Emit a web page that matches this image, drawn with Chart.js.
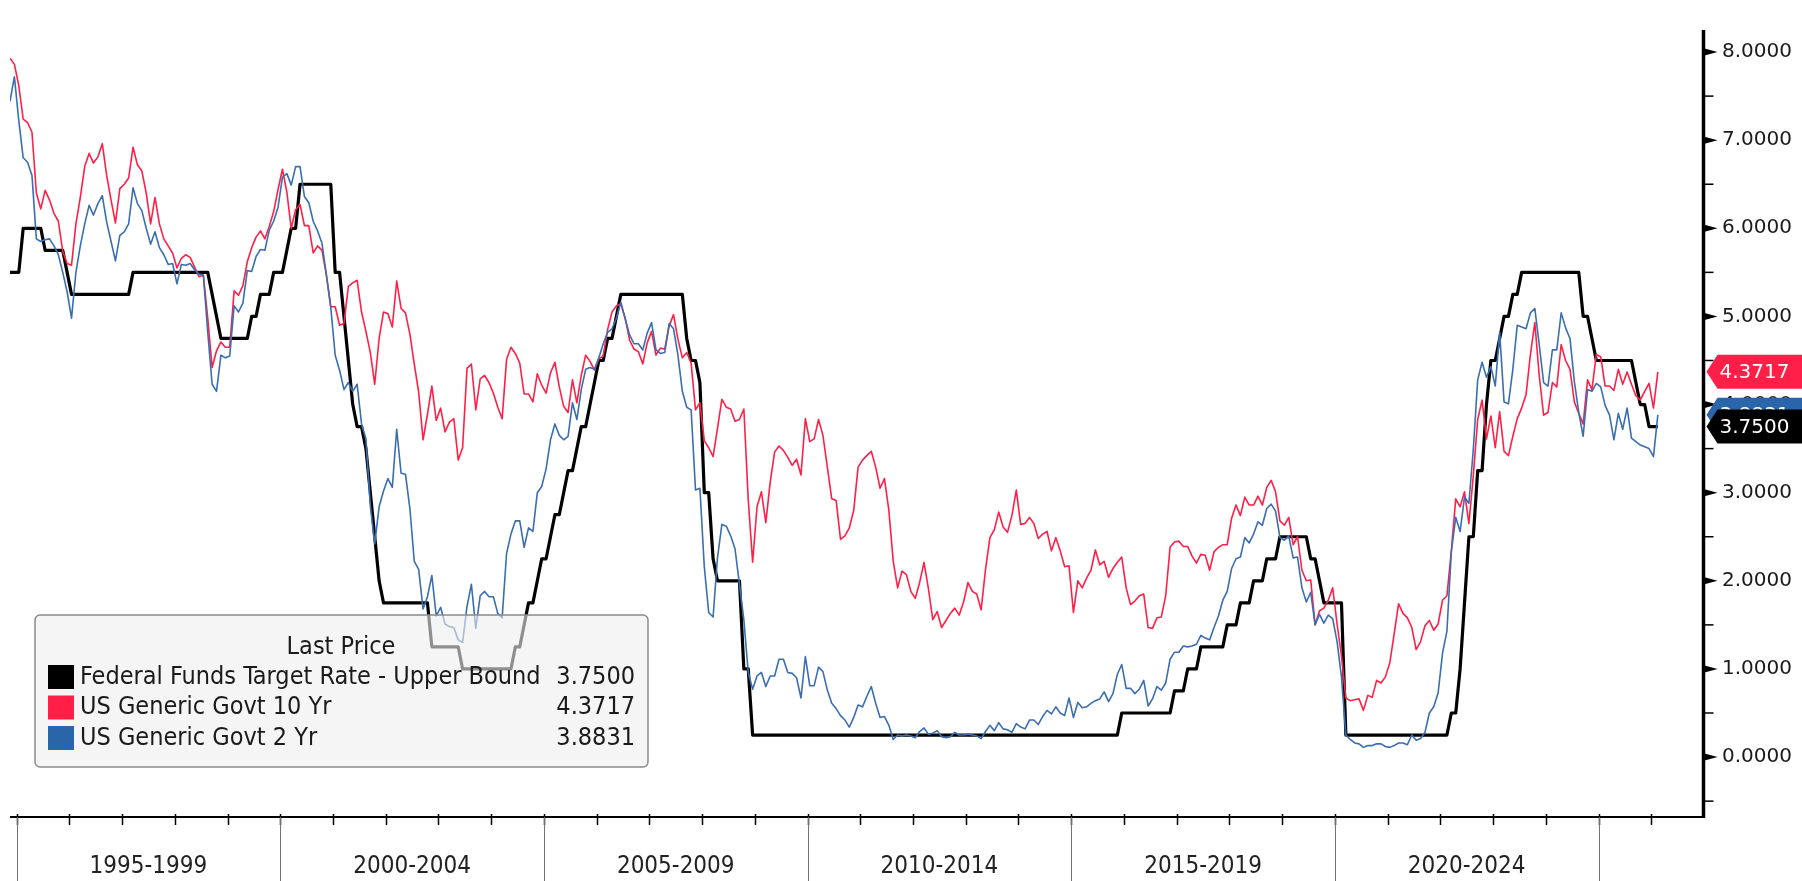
<!DOCTYPE html>
<html>
<head>
<meta charset="utf-8">
<script src="https://cdn.jsdelivr.net/npm/chart.js@4.4.1/dist/chart.umd.min.js"></script>
<style>
  html, body { margin: 0; padding: 0; background: #fff; }
  canvas { display: block; }
</style>
</head>
<body>
<canvas id="tasas" width="1802" height="881"></canvas>
<script>
// monthly samples, oldest first (first one = Nov 1994)
const FIRST_POINT = 1994 + 10.5 / 12;

const FED_FUNDS = [
  5.5, 5.5,
  5.5, 6.0, 6.0, 6.0, 6.0, 6.0, 5.75, 5.75, 5.75, 5.75, 5.75, 5.5,          // 1995
  5.25, 5.25, 5.25, 5.25, 5.25, 5.25, 5.25, 5.25, 5.25, 5.25, 5.25, 5.25,  // 1996
  5.25, 5.25, 5.5, 5.5, 5.5, 5.5, 5.5, 5.5, 5.5, 5.5, 5.5, 5.5,            // 1997
  5.5, 5.5, 5.5, 5.5, 5.5, 5.5, 5.5, 5.5, 5.25, 5.0, 4.75, 4.75,           // 1998
  4.75, 4.75, 4.75, 4.75, 4.75, 5.0, 5.0, 5.25, 5.25, 5.25, 5.5, 5.5,      // 1999
  5.5, 5.75, 6.0, 6.0, 6.5, 6.5, 6.5, 6.5, 6.5, 6.5, 6.5, 6.5,             // 2000
  5.5, 5.5, 5.0, 4.5, 4.0, 3.75, 3.75, 3.5, 3.0, 2.5, 2.0, 1.75,           // 2001
  1.75, 1.75, 1.75, 1.75, 1.75, 1.75, 1.75, 1.75, 1.75, 1.75, 1.25, 1.25,  // 2002
  1.25, 1.25, 1.25, 1.25, 1.25, 1.0, 1.0, 1.0, 1.0, 1.0, 1.0, 1.0,         // 2003
  1.0, 1.0, 1.0, 1.0, 1.0, 1.25, 1.25, 1.5, 1.75, 1.75, 2.0, 2.25,         // 2004
  2.25, 2.5, 2.75, 2.75, 3.0, 3.25, 3.25, 3.5, 3.75, 3.75, 4.0, 4.25,      // 2005
  4.5, 4.5, 4.75, 4.75, 5.0, 5.25, 5.25, 5.25, 5.25, 5.25, 5.25, 5.25,     // 2006
  5.25, 5.25, 5.25, 5.25, 5.25, 5.25, 5.25, 5.25, 4.75, 4.5, 4.5, 4.25,    // 2007
  3.0, 3.0, 2.25, 2.0, 2.0, 2.0, 2.0, 2.0, 2.0, 1.0, 1.0, 0.25,            // 2008
  0.25, 0.25, 0.25, 0.25, 0.25, 0.25, 0.25, 0.25, 0.25, 0.25, 0.25, 0.25,  // 2009
  0.25, 0.25, 0.25, 0.25, 0.25, 0.25, 0.25, 0.25, 0.25, 0.25, 0.25, 0.25,  // 2010
  0.25, 0.25, 0.25, 0.25, 0.25, 0.25, 0.25, 0.25, 0.25, 0.25, 0.25, 0.25,  // 2011
  0.25, 0.25, 0.25, 0.25, 0.25, 0.25, 0.25, 0.25, 0.25, 0.25, 0.25, 0.25,  // 2012
  0.25, 0.25, 0.25, 0.25, 0.25, 0.25, 0.25, 0.25, 0.25, 0.25, 0.25, 0.25,  // 2013
  0.25, 0.25, 0.25, 0.25, 0.25, 0.25, 0.25, 0.25, 0.25, 0.25, 0.25, 0.25,  // 2014
  0.25, 0.25, 0.25, 0.25, 0.25, 0.25, 0.25, 0.25, 0.25, 0.25, 0.25, 0.5,   // 2015
  0.5, 0.5, 0.5, 0.5, 0.5, 0.5, 0.5, 0.5, 0.5, 0.5, 0.5, 0.75,             // 2016
  0.75, 0.75, 1.0, 1.0, 1.0, 1.25, 1.25, 1.25, 1.25, 1.25, 1.25, 1.5,      // 2017
  1.5, 1.5, 1.75, 1.75, 1.75, 2.0, 2.0, 2.0, 2.25, 2.25, 2.25, 2.5,        // 2018
  2.5, 2.5, 2.5, 2.5, 2.5, 2.5, 2.25, 2.25, 2.0, 1.75, 1.75, 1.75,         // 2019
  1.75, 1.75, 0.25, 0.25, 0.25, 0.25, 0.25, 0.25, 0.25, 0.25, 0.25, 0.25,  // 2020
  0.25, 0.25, 0.25, 0.25, 0.25, 0.25, 0.25, 0.25, 0.25, 0.25, 0.25, 0.25,  // 2021
  0.25, 0.25, 0.5, 0.5, 1.0, 1.75, 2.5, 2.5, 3.25, 3.25, 4.0, 4.5,         // 2022
  4.5, 4.75, 5.0, 5.0, 5.25, 5.25, 5.5, 5.5, 5.5, 5.5, 5.5, 5.5,           // 2023
  5.5, 5.5, 5.5, 5.5, 5.5, 5.5, 5.5, 5.5, 5.0, 5.0, 4.75, 4.5,             // 2024
  4.5, 4.5, 4.5, 4.5, 4.5, 4.5, 4.5, 4.5, 4.25, 4.0, 4.0, 3.75,            // 2025
  3.75, 3.75                                                               // 2026
];

const GOVT_10Y = [
  7.93, 7.86,
  7.62, 7.24, 7.20, 7.09, 6.40, 6.22, 6.43, 6.32, 6.17, 6.08, 5.74, 5.60,  // 1995
  5.58, 6.05, 6.35, 6.70, 6.85, 6.74, 6.81, 6.96, 6.60, 6.32, 6.06, 6.45,  // 1996
  6.50, 6.57, 6.92, 6.72, 6.65, 6.40, 6.05, 6.35, 6.05, 5.88, 5.80, 5.72,  // 1997
  5.55, 5.66, 5.70, 5.67, 5.56, 5.45, 5.47, 4.98, 4.42, 4.61, 4.71, 4.65,  // 1998
  4.65, 5.29, 5.24, 5.35, 5.62, 5.78, 5.90, 5.97, 5.88, 6.02, 6.19, 6.44,  // 1999
  6.67, 6.41, 6.00, 6.21, 6.27, 6.03, 6.03, 5.72, 5.80, 5.75, 5.47, 5.11,  // 2000
  5.11, 4.90, 4.92, 5.34, 5.38, 5.41, 5.05, 4.83, 4.59, 4.23, 4.75, 5.05,  // 2001
  5.03, 4.88, 5.40, 5.09, 5.04, 4.80, 4.46, 4.14, 3.60, 3.89, 4.21, 3.82,  // 2002
  3.96, 3.69, 3.80, 3.84, 3.37, 3.51, 4.41, 4.46, 3.94, 4.29, 4.33, 4.25,  // 2003
  4.13, 3.97, 3.84, 4.51, 4.65, 4.58, 4.47, 4.12, 4.12, 4.03, 4.35, 4.22,  // 2004
  4.13, 4.36, 4.48, 4.20, 3.98, 3.91, 4.28, 4.02, 4.33, 4.56, 4.49, 4.39,  // 2005
  4.52, 4.55, 4.85, 5.05, 5.12, 5.14, 4.98, 4.73, 4.63, 4.60, 4.46, 4.70,  // 2006
  4.83, 4.56, 4.64, 4.63, 4.89, 5.02, 4.74, 4.53, 4.59, 4.47, 3.94, 4.02,  // 2007
  3.59, 3.51, 3.41, 3.73, 4.06, 3.97, 3.95, 3.81, 3.83, 3.95, 2.92, 2.21,  // 2008
  2.84, 3.01, 2.66, 3.12, 3.46, 3.53, 3.48, 3.40, 3.31, 3.38, 3.20, 3.84,  // 2009
  3.58, 3.61, 3.83, 3.65, 3.29, 2.93, 2.91, 2.47, 2.51, 2.60, 2.80, 3.29,  // 2010
  3.37, 3.42, 3.47, 3.29, 3.05, 3.16, 2.80, 2.22, 1.92, 2.11, 2.07, 1.88,  // 2011
  1.80, 1.98, 2.21, 1.91, 1.56, 1.65, 1.47, 1.55, 1.63, 1.69, 1.61, 1.76,  // 2012
  1.98, 1.88, 1.85, 1.67, 2.13, 2.49, 2.58, 2.78, 2.61, 2.55, 2.74, 3.03,  // 2013
  2.64, 2.65, 2.72, 2.65, 2.48, 2.53, 2.56, 2.34, 2.49, 2.34, 2.16, 2.17,  // 2014
  1.64, 2.00, 1.92, 2.03, 2.12, 2.35, 2.18, 2.22, 2.04, 2.14, 2.21, 2.27,  // 2015
  1.92, 1.73, 1.77, 1.83, 1.85, 1.47, 1.46, 1.58, 1.59, 1.83, 2.38, 2.44,  // 2016
  2.45, 2.39, 2.39, 2.28, 2.20, 2.30, 2.29, 2.12, 2.33, 2.38, 2.41, 2.41,  // 2017
  2.71, 2.86, 2.74, 2.95, 2.86, 2.86, 2.96, 2.86, 3.06, 3.14, 3.01, 2.68,  // 2018
  2.63, 2.72, 2.41, 2.50, 2.12, 2.00, 2.01, 1.50, 1.66, 1.69, 1.78, 1.92,  // 2019
  1.51, 1.15, 0.67, 0.64, 0.65, 0.66, 0.53, 0.70, 0.68, 0.87, 0.84, 0.91,  // 2020
  1.07, 1.40, 1.74, 1.63, 1.58, 1.47, 1.22, 1.31, 1.49, 1.55, 1.44, 1.51,  // 2021
  1.78, 1.83, 2.34, 2.93, 2.84, 3.01, 2.65, 3.19, 3.83, 4.05, 3.61, 3.87,  // 2022
  3.51, 3.92, 3.47, 3.42, 3.64, 3.84, 3.96, 4.11, 4.57, 4.93, 4.33, 3.88,  // 2023
  3.91, 4.25, 4.20, 4.68, 4.50, 4.40, 4.03, 3.90, 3.78, 4.28, 4.17, 4.57,  // 2024
  4.54, 4.21, 4.21, 4.16, 4.40, 4.23, 4.37, 4.23, 4.10, 4.05, 4.15, 4.24,  // 2025
  3.96, 4.3717                                                             // 2026
];

const GOVT_2Y = [
  7.44, 7.72,
  7.22, 6.80, 6.75, 6.60, 5.88, 5.85, 5.87, 5.88, 5.80, 5.70, 5.50, 5.28,  // 1995
  4.98, 5.50, 5.80, 6.05, 6.26, 6.15, 6.28, 6.37, 6.07, 5.85, 5.63, 5.92,  // 1996
  5.96, 6.05, 6.46, 6.28, 6.20, 6.00, 5.82, 5.96, 5.78, 5.70, 5.59, 5.60,  // 1997
  5.37, 5.59, 5.58, 5.60, 5.53, 5.48, 5.47, 4.82, 4.23, 4.15, 4.56, 4.53,  // 1998
  4.55, 5.12, 5.05, 5.15, 5.52, 5.51, 5.68, 5.76, 5.75, 5.98, 6.08, 6.24,  // 1999
  6.58, 6.62, 6.49, 6.70, 6.70, 6.36, 6.29, 6.08, 5.97, 5.83, 5.47, 5.10,  // 2000
  4.56, 4.39, 4.17, 4.25, 4.15, 4.23, 3.78, 3.61, 2.85, 2.42, 2.84, 3.02,  // 2001
  3.16, 3.06, 3.72, 3.22, 3.21, 2.82, 2.22, 2.13, 1.68, 1.82, 2.06, 1.60,  // 2002
  1.70, 1.51, 1.48, 1.47, 1.33, 1.30, 1.71, 1.96, 1.46, 1.83, 1.88, 1.82,  // 2003
  1.82, 1.63, 1.58, 2.31, 2.53, 2.68, 2.68, 2.38, 2.60, 2.56, 3.00, 3.07,  // 2004
  3.27, 3.60, 3.78, 3.65, 3.60, 3.64, 4.02, 3.83, 4.17, 4.40, 4.42, 4.40,  // 2005
  4.53, 4.69, 4.82, 4.86, 4.98, 5.16, 4.97, 4.79, 4.69, 4.69, 4.62, 4.81,  // 2006
  4.93, 4.62, 4.58, 4.59, 4.92, 4.86, 4.56, 4.15, 3.97, 3.94, 3.03, 3.05,  // 2007
  2.16, 1.64, 1.59, 2.26, 2.64, 2.62, 2.51, 2.36, 1.96, 1.56, 0.96, 0.77,  // 2008
  0.92, 0.96, 0.80, 0.92, 0.92, 1.11, 1.11, 0.96, 0.95, 0.90, 0.67, 1.14,  // 2009
  0.81, 0.81, 1.02, 0.97, 0.76, 0.61, 0.55, 0.47, 0.42, 0.34, 0.45, 0.59,  // 2010
  0.57, 0.69, 0.80, 0.61, 0.45, 0.46, 0.36, 0.20, 0.25, 0.24, 0.25, 0.24,  // 2011
  0.22, 0.29, 0.33, 0.26, 0.27, 0.30, 0.23, 0.22, 0.23, 0.28, 0.25, 0.25,  // 2012
  0.26, 0.25, 0.24, 0.21, 0.29, 0.36, 0.30, 0.39, 0.32, 0.31, 0.28, 0.38,  // 2013
  0.34, 0.32, 0.42, 0.42, 0.37, 0.46, 0.53, 0.49, 0.57, 0.50, 0.47, 0.67,  // 2014
  0.45, 0.62, 0.56, 0.57, 0.61, 0.64, 0.66, 0.74, 0.63, 0.72, 0.94, 1.05,  // 2015
  0.78, 0.78, 0.72, 0.77, 0.87, 0.58, 0.66, 0.80, 0.76, 0.84, 1.11, 1.19,  // 2016
  1.19, 1.26, 1.25, 1.26, 1.28, 1.38, 1.35, 1.33, 1.47, 1.60, 1.78, 1.88,  // 2017
  2.14, 2.25, 2.27, 2.49, 2.43, 2.53, 2.67, 2.63, 2.82, 2.87, 2.79, 2.49,  // 2018
  2.46, 2.51, 2.26, 2.27, 1.92, 1.76, 1.87, 1.50, 1.62, 1.52, 1.61, 1.57,  // 2019
  1.31, 0.91, 0.25, 0.20, 0.16, 0.15, 0.11, 0.13, 0.13, 0.15, 0.15, 0.12,  // 2020
  0.11, 0.13, 0.16, 0.16, 0.14, 0.25, 0.19, 0.21, 0.28, 0.50, 0.57, 0.73,  // 2021
  1.18, 1.43, 2.33, 2.72, 2.56, 2.95, 2.88, 3.49, 4.28, 4.48, 4.31, 4.43,  // 2022
  4.21, 4.82, 4.03, 4.01, 4.40, 4.90, 4.88, 4.86, 5.04, 5.09, 4.68, 4.25,  // 2023
  4.21, 4.62, 4.62, 5.04, 4.87, 4.75, 4.26, 3.91, 3.64, 4.17, 4.15, 4.24,  // 2024
  4.20, 3.99, 3.88, 3.60, 3.90, 3.72, 3.96, 3.62, 3.58, 3.54, 3.52, 3.50,  // 2025
  3.41, 3.8831                                                             // 2026
];

const SERIES_NAMES = [
  "Federal Funds Target Rate - Upper Bound",
  "US Generic Govt 10 Yr",
  "US Generic Govt 2 Yr"
];
const SERIES_COLORS = ["#000000", "#ff1f47", "#2b65a9"];

const Y_TICKS = [-0.5, 0, 0.5, 1, 1.5, 2, 2.5, 3, 3.5, 4, 4.5, 5, 5.5, 6, 6.5, 7, 7.5, 8];
const BAND_STARTS = [1995, 2000, 2005, 2010, 2015, 2020, 2025];
const BAND_LABELS = ["1995-1999", "2000-2004", "2005-2009", "2010-2014", "2015-2019", "2020-2024", ""];

const AXIS_FONT = "'DejaVu Sans', Verdana, sans-serif";
const TEXT_FONT = "'DejaVu Sans Condensed', 'Liberation Sans', Arial, sans-serif";

function puntos(valores) {
  return valores.map((v, i) => ({ x: FIRST_POINT + i / 12, y: v }));
}
function ultimo(valores) {
  return valores[valores.length - 1];
}

/* ── ejes, leyenda y etiquetas estilo terminal ───────────── */

const marco = {
  id: "marco",
  afterDraw(chart) {
    const { ctx, chartArea: ca } = chart;
    const xs = chart.scales.x, ys = chart.scales.y;
    const axisX = ca.right - 0.5;
    ctx.save();

    // eje x + marcas anuales
    ctx.strokeStyle = "#000";
    ctx.lineWidth = 2;
    ctx.beginPath();
    ctx.moveTo(ca.left, ca.bottom);
    ctx.lineTo(axisX, ca.bottom);
    ctx.stroke();
    ctx.lineWidth = 1.5;
    for (let yr = BAND_STARTS[0]; yr < 2027; yr++) {
      const px = Math.round(xs.getPixelForValue(yr)) + 0.5;
      ctx.beginPath();
      ctx.moveTo(px, ca.bottom - 3);
      ctx.lineTo(px, ca.bottom + 8);
      ctx.stroke();
    }

    // bandas de 5 años
    ctx.strokeStyle = "#707070";
    ctx.lineWidth = 1;
    ctx.fillStyle = "#222";
    ctx.font = "24px " + TEXT_FONT;
    ctx.textAlign = "center";
    ctx.textBaseline = "middle";
    BAND_STARTS.forEach((yr, i) => {
      const px = Math.round(xs.getPixelForValue(yr)) + 0.5;
      ctx.beginPath();
      ctx.moveTo(px, ca.bottom);
      ctx.lineTo(px, chart.height);
      ctx.stroke();
      if (BAND_LABELS[i]) {
        const mid = (xs.getPixelForValue(yr) + xs.getPixelForValue(yr + 5)) / 2;
        ctx.fillText(BAND_LABELS[i], mid, ca.bottom + 50);
      }
    });

    // eje y derecho
    ctx.strokeStyle = "#000";
    ctx.lineWidth = 3.5;
    ctx.beginPath();
    ctx.moveTo(axisX, ca.top);
    ctx.lineTo(axisX, ca.bottom + 1);
    ctx.stroke();
    ctx.fillStyle = "#000";
    ctx.lineWidth = 1.5;
    Y_TICKS.forEach(v => {
      const py = ys.getPixelForValue(v);
      if (Number.isInteger(v)) {
        ctx.beginPath();
        ctx.moveTo(axisX + 1, py - 3.5);
        ctx.lineTo(axisX + 14, py);
        ctx.lineTo(axisX + 1, py + 3.5);
        ctx.closePath();
        ctx.fill();
      } else {
        ctx.beginPath();
        ctx.moveTo(axisX + 1, py);
        ctx.lineTo(axisX + 10, py);
        ctx.stroke();
      }
    });

    // leyenda "Last Price"
    const bx = ca.left + 25, by = ca.bottom - 202, bw = 613, bh = 152;
    ctx.beginPath();
    ctx.roundRect(bx, by, bw, bh, 5);
    ctx.fillStyle = "rgba(238,238,238,0.6)";
    ctx.fill();
    ctx.strokeStyle = "#8a8a8a";
    ctx.lineWidth = 1.5;
    ctx.stroke();

    ctx.fillStyle = "#1a1a1a";
    ctx.font = "25px " + TEXT_FONT;
    ctx.textBaseline = "middle";
    ctx.textAlign = "center";
    ctx.fillText("Last Price", bx + 306, by + 32);
    const valores = [FED_FUNDS, GOVT_10Y, GOVT_2Y];
    SERIES_NAMES.forEach((name, i) => {
      const cy = by + 62 + i * 30.5;
      ctx.fillStyle = SERIES_COLORS[i];
      ctx.fillRect(bx + 13, cy - 12, 26, 24);
      ctx.fillStyle = "#1a1a1a";
      ctx.textAlign = "left";
      ctx.fillText(name, bx + 45, cy);
      ctx.textAlign = "right";
      ctx.fillText(ultimo(valores[i]).toFixed(4), bx + 600, cy);
    });

    // etiquetas del último valor
    ctx.font = "20px " + AXIS_FONT;
    ctx.textAlign = "left";
    [1, 2, 0].forEach(i => {
      const v = ultimo(valores[i]);
      const py = ys.getPixelForValue(v);
      ctx.beginPath();
      ctx.moveTo(axisX + 3, py);
      ctx.lineTo(axisX + 14, py - 17);
      ctx.lineTo(chart.width, py - 17);
      ctx.lineTo(chart.width, py + 17);
      ctx.lineTo(axisX + 14, py + 17);
      ctx.closePath();
      ctx.fillStyle = SERIES_COLORS[i];
      ctx.fill();
      ctx.fillStyle = "#fff";
      ctx.fillText(v.toFixed(4), axisX + 16, py + 1);
    });

    ctx.restore();
  }
};

new Chart(document.getElementById("tasas"), {
  type: "line",
  data: {
    datasets: [
      {
        label: SERIES_NAMES[0],
        data: puntos(FED_FUNDS),
        borderColor: SERIES_COLORS[0],
        borderWidth: 3.2,
        order: 2,
      },
      {
        label: SERIES_NAMES[1],
        data: puntos(GOVT_10Y),
        borderColor: SERIES_COLORS[1],
        borderWidth: 1.6,
        order: 1,
      },
      {
        label: SERIES_NAMES[2],
        data: puntos(GOVT_2Y),
        borderColor: "#3a6eb0",
        borderWidth: 1.6,
        order: 0,
      },
    ],
  },
  options: {
    responsive: false,
    animation: false,
    devicePixelRatio: 1,
    layout: { padding: { left: 10, top: 8, right: 0, bottom: 64 } },
    elements: {
      point: { radius: 0, hoverRadius: 0 },
      line: { tension: 0, borderJoinStyle: "round", fill: false },
    },
    plugins: {
      legend: { display: false },
      tooltip: { enabled: false },
    },
    scales: {
      x: {
        type: "linear",
        min: FIRST_POINT,
        max: 2027,
        display: false,
      },
      y: {
        position: "right",
        min: -0.68,
        max: 8.25,
        afterBuildTicks: (scale) => {
          scale.ticks = Y_TICKS.map(v => ({ value: v }));
        },
        afterFit: (scale) => { scale.width = 98; },
        grid: { display: false, drawTicks: false },
        border: { display: false },
        ticks: {
          autoSkip: false,
          maxRotation: 0,
          padding: 18,
          color: "#1a1a1a",
          font: { family: AXIS_FONT, size: 20 },
          callback: (v) => (Number.isInteger(v) && v >= 0 ? v.toFixed(4) : ""),
        },
      },
    },
  },
  plugins: [marco],
});
</script>
</body>
</html>
